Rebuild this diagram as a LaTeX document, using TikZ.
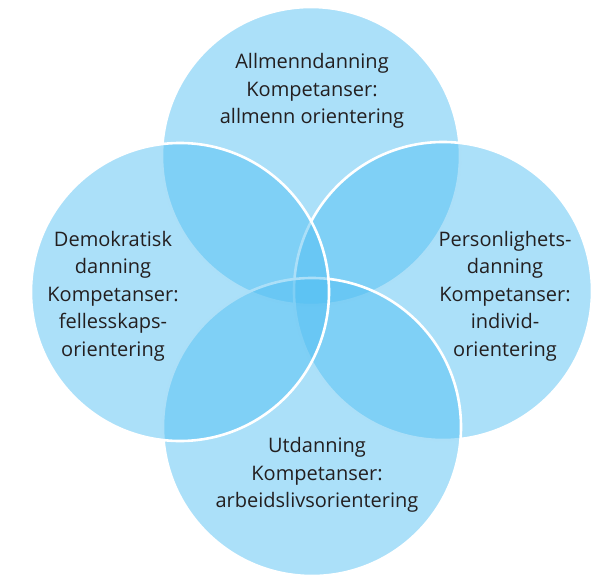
\documentclass[tikz,border=0pt]{standalone}
\usepackage{fontspec}
\setmainfont{Open Sans}
\definecolor{ringblue}{RGB}{80,190,242}
\definecolor{inkdark}{RGB}{35,31,32}
\begin{document}
\begin{tikzpicture}[x=1pt, y=1pt,
    ring/.style={fill=ringblue, fill opacity=0.48, draw=white, line width=2.6pt},
    txt/.style={align=center, inner sep=0pt, text=inkdark,
      font=\fontsize{20}{27.5}\selectfont},
  ]
  \useasboundingbox (0,0) rectangle (612,587);
  % circle centres
  \coordinate (ctop) at (311,431);
  \coordinate (cright) at (443,296);
  \coordinate (cbottom) at (312,160);
  \coordinate (cleft) at (180,295);
  % order gives the woven outlines
  \draw[ring] (ctop) circle (149pt);
  \draw[ring] (cright) circle (149pt);
  \draw[ring] (cbottom) circle (149pt);
  \draw[ring] (cleft) circle (149pt);
  \node[txt] (allmenn) at (312,496) {Allmenndanning\\Kompetanser:\\allmenn orientering};
  \node[txt] (demokrat) at (113,291) {Demokratisk\\danning\\Kompetanser:\\fellesskaps-\\orientering};
  \node[txt] (person) at (505,291) {Personlighets-\\danning\\Kompetanser:\\individ-\\orientering};
  \node[txt] (utdann) at (317,112) {Utdanning\\Kompetanser:\\arbeidslivsorientering};
\end{tikzpicture}
\end{document}
